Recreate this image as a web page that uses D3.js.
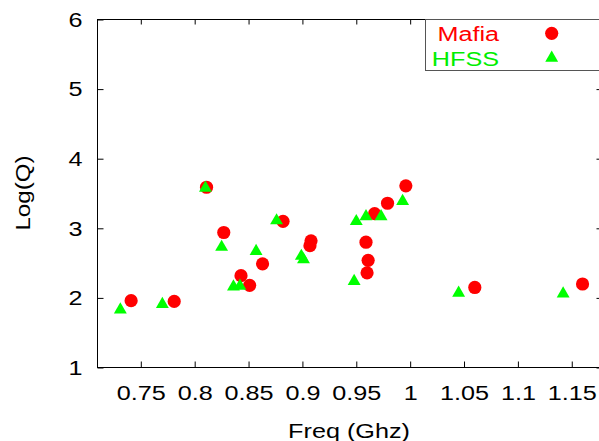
<!DOCTYPE html>
<html lang="en">
<head>
<meta charset="utf-8">
<title>Log(Q) vs Freq</title>
<script src="https://d3js.org/d3.v7.min.js"></script>
<style>
  body { margin: 0; background: #fff; }
  text { font-family: "Liberation Sans", Arial, sans-serif; font-size: 21px; fill: #000; }
</style>
</head>
<body>
<div id="chart"></div>
<script>
// Mafia series (circles)
var mafiaFreq = [0.741, 0.781, 0.811, 0.827, 0.843, 0.851, 0.863, 0.882, 0.907, 0.908,
                 0.959, 0.960, 0.961, 0.967, 0.979, 0.996, 1.060, 1.160];
var mafiaLogQ = [1.96, 1.95, 3.59, 2.94, 2.32, 2.18, 2.49, 3.10, 2.75, 2.82,
                 2.80, 2.36, 2.54, 3.21, 3.36, 3.61, 2.15, 2.20];
// HFSS series (triangles)
var hfssFreq = [0.731, 0.770, 0.810, 0.825, 0.836, 0.842, 0.857, 0.876, 0.899, 0.901,
                0.948, 0.950, 0.959, 0.973, 0.993, 1.045, 1.142];
var hfssLogQ = [1.83, 1.91, 3.58, 2.73, 2.16, 2.17, 2.67, 3.11, 2.60, 2.55,
                2.24, 3.10, 3.17, 3.17, 3.39, 2.07, 2.06];

var xTicks = [0.75, 0.8, 0.85, 0.9, 0.95, 1, 1.05, 1.1, 1.15];
var yTicks = [1, 2, 3, 4, 5, 6];
var seriesNames = ["Mafia", "HFSS"];

var W = 599, H = 441;
var pLeft = 97.5, pRight = 601.5, pTop = 19.5, pBottom = 367.5;
var stretch = 1.2;

var svg = d3.select("#chart").append("svg")
  .attr("width", W).attr("height", H);

var x = d3.scaleLinear().domain([0.7098, 1.1776]).range([pLeft, pRight]);
var y = d3.scaleLinear().domain([1, 6]).range([pBottom, pTop]);

// bottom axis with labels
var gx = svg.append("g").attr("transform", "translate(0," + pBottom + ")")
  .call(d3.axisBottom(x).tickValues(xTicks).tickSize(-6).tickPadding(18)
    .tickFormat(function(d) { return String(d); }));
gx.selectAll("text").attr("dy", "0.71em").attr("transform", "scale(" + stretch + ",1)")
  .style("font-size", "21px");

// top axis ticks only
svg.append("g").attr("transform", "translate(0," + pTop + ")")
  .call(d3.axisTop(x).tickValues(xTicks).tickSize(-5).tickFormat(""));

// left axis with labels
var gy = svg.append("g").attr("transform", "translate(" + pLeft + ",0)")
  .call(d3.axisLeft(y).tickValues(yTicks).tickSize(-6).tickFormat(d3.format("d")));
gy.selectAll("text").attr("x", 0)
  .attr("transform", "translate(-15,0) scale(" + stretch + ",1)")
  .style("font-size", "21px");

// right axis ticks only
svg.append("g").attr("transform", "translate(" + pRight + ",0)")
  .call(d3.axisRight(y).tickValues(yTicks).tickSize(-5).tickFormat(""));

svg.selectAll(".domain").remove();
svg.selectAll(".tick line").attr("stroke", "#000");

// frame
svg.append("rect")
  .attr("x", pLeft).attr("y", pTop)
  .attr("width", pRight - pLeft).attr("height", pBottom - pTop)
  .attr("fill", "none").attr("stroke", "#000");

// axis titles
svg.append("text")
  .attr("text-anchor", "middle")
  .attr("transform", "translate(349,438) scale(" + stretch + ",1)")
  .text("Freq (Ghz)");

svg.append("text")
  .attr("text-anchor", "middle")
  .attr("transform", "translate(30,193) rotate(-90) scale(1.15,1)")
  .text("Log(Q)");

// points
var mafia = mafiaFreq.map(function(f, i) { return {f: f, q: mafiaLogQ[i]}; });
var hfss = hfssFreq.map(function(f, i) { return {f: f, q: hfssLogQ[i]}; });

svg.append("g").selectAll("circle").data(mafia).enter().append("circle")
  .attr("cx", function(d) { return x(d.f); })
  .attr("cy", function(d) { return y(d.q); })
  .attr("r", 6.6)
  .attr("fill", "#ff0000");

var tri = d3.symbol().type(d3.symbolTriangle).size(72);
svg.append("g").selectAll("path").data(hfss).enter().append("path")
  .attr("d", tri)
  .attr("transform", function(d) { return "translate(" + x(d.f) + "," + y(d.q) + ")"; })
  .attr("fill", "#00ff00");

// legend
var legend = svg.append("g");
legend.append("rect")
  .attr("x", 425.5).attr("y", pTop)
  .attr("width", 200).attr("height", 51)
  .attr("fill", "#fff").attr("stroke", "#555");

var legColors = ["#ff0000", "#00ee00"];
var legY = [40.7, 66];
seriesNames.forEach(function(name, i) {
  legend.append("text")
    .attr("text-anchor", "end")
    .attr("transform", "translate(499," + legY[i] + ") scale(" + stretch + ",1)")
    .style("fill", legColors[i])
    .text(name);
});
legend.append("circle").attr("cx", 551.7).attr("cy", 33.3).attr("r", 6.6).attr("fill", "#ff0000");
legend.append("path").attr("d", tri).attr("transform", "translate(551.7,58)").attr("fill", "#00ff00");
</script>
</body>
</html>
